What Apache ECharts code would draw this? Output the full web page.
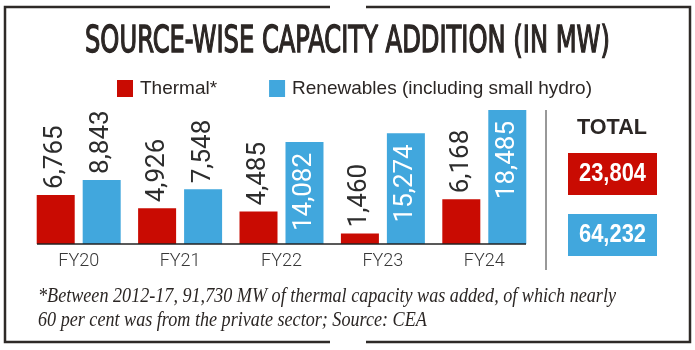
<!DOCTYPE html>
<html>
<head>
<meta charset="utf-8">
<script src="https://cdn.jsdelivr.net/npm/echarts@6/dist/echarts.min.js"></script>
<style>
  html, body { margin: 0; padding: 0; background: #fff; }
  #chart { width: 695px; height: 350px; }
</style>
</head>
<body>
<div id="chart"></div>
<script>
// data
var categories = ['FY20', 'FY21', 'FY22', 'FY23', 'FY24'];
var thermal = [6765, 4926, 4485, 1460, 6168];
var renewables = [8843, 7548, 14082, 15274, 18485];
var totals = [23804, 64232];
var seriesNames = ['Thermal*', 'Renewables (including small hydro)'];
var titleText = 'SOURCE-WISE CAPACITY ADDITION (IN MW)';
var noteLines = [
    '*Between 2012-17, 91,730 MW of thermal capacity was added, of which nearly',
    '60 per cent was from the private sector; Source: CEA'
];

var RED = '#c90b02';
var BLUE = '#41a7dd';
var INK = '#2b2624';
var SANS = '"Liberation Sans", Arial, sans-serif';
var COND = '"DejaVu Sans Condensed", "DejaVu Sans", sans-serif';

function fmt(v) {
    return String(v).replace(/\B(?=(\d{3})+(?!\d))/g, ',');
}

// squeeze a text to the width it has in the picture
var measureCtx = document.createElement('canvas').getContext('2d');
function fitScale(text, font, width) {
    measureCtx.font = font;
    return width / measureCtx.measureText(text).width;
}

var chart = echarts.init(document.getElementById('chart'), null, { renderer: 'canvas' });

var outsideLabel = {
    show: true,
    position: 'top',
    rotate: 90,
    align: 'left',
    verticalAlign: 'middle',
    distance: 6,
    color: '#2d2d2d',
    fontFamily: 'Roboto, "Liberation Sans", sans-serif',
    fontSize: 26,
    formatter: function (p) { return fmt(p.value); }
};
// tall blue bars carry their number inside, in white
var insideLabel = {
    position: 'insideTop',
    align: 'right',
    distance: 11,
    color: '#ffffff'
};

var renewData = renewables.map(function (v) {
    return v > 12000 ? { value: v, label: insideLabel } : v;
});

var titleFont = '38px ' + COND;
var boxFont = 'bold 25px ' + SANS;
var noteFont = 'italic 21px "Liberation Serif", "DejaVu Serif", serif';
var noteScale = fitScale(noteLines[0], noteFont, 578);

function txt(opt) {
    return {
        type: 'text',
        x: opt.x, y: opt.y,
        scaleX: opt.width ? fitScale(opt.text, opt.font, opt.width) : (opt.scaleX || 1),
        z: 20,
        style: {
            text: opt.text,
            font: opt.font,
            fill: opt.fill || INK,
            stroke: opt.stroke ? (opt.fill || INK) : null,
            lineWidth: opt.stroke || 0,
            align: opt.align || 'center',
            textAlign: opt.align || 'center',
            verticalAlign: 'middle',
            textVerticalAlign: 'middle'
        }
    };
}

var option = {
    animation: false,
    backgroundColor: '#ffffff',
    color: [RED, BLUE],
    legend: {
        left: 112,
        top: 74,
        icon: 'rect',
        itemWidth: 16,
        itemHeight: 17,
        itemGap: 52,
        textStyle: {
            color: INK,
            fontFamily: SANS,
            fontSize: 19,
            padding: [0, 0, 0, 2]
        },
        data: seriesNames
    },
    grid: {
        left: 28,
        right: 160,
        top: 99,
        height: 145
    },
    xAxis: {
        type: 'category',
        data: categories,
        axisLine: { show: false },
        axisTick: { show: false },
        axisLabel: {
            margin: 8,
            color: '#383838',
            fontFamily: 'Roboto, "Liberation Sans", sans-serif',
            fontWeight: 300,
            fontSize: 18
        }
    },
    yAxis: {
        type: 'value',
        min: 0,
        max: 20000,
        show: false
    },
    series: [
        {
            name: seriesNames[0],
            type: 'bar',
            barWidth: 38,
            barGap: '21%',
            label: outsideLabel,
            data: thermal
        },
        {
            name: seriesNames[1],
            type: 'bar',
            barWidth: 38,
            barGap: '21%',
            label: outsideLabel,
            data: renewData
        }
    ],
    graphic: [
        // frame, open in the middle of top and bottom edges
        {
            type: 'polyline', z: 20,
            shape: { points: [[330, 7], [5, 7], [5, 342], [330, 342]] },
            style: { stroke: '#2e2a27', lineWidth: 2.5, fill: null }
        },
        {
            type: 'polyline', z: 20,
            shape: { points: [[366, 7], [690, 7], [690, 342], [366, 342]] },
            style: { stroke: '#2e2a27', lineWidth: 2.5, fill: null }
        },
        txt({ text: titleText, font: titleFont, x: 347.5, y: 42, width: 525, stroke: 1.3 }),
        // base line under the bars
        {
            type: 'line', z: 20,
            shape: { x1: 37, y1: 244, x2: 526, y2: 244 },
            style: { stroke: '#222', lineWidth: 1.5 }
        },
        // separator before totals
        {
            type: 'line', z: 20,
            shape: { x1: 546, y1: 110, x2: 546, y2: 270 },
            style: { stroke: '#333', lineWidth: 1 }
        },
        txt({ text: 'TOTAL', font: 'bold 22px ' + SANS, x: 612, y: 128, width: 70 }),
        {
            type: 'rect', z: 15,
            shape: { x: 568, y: 153, width: 89, height: 42 },
            style: { fill: RED }
        },
        txt({ text: fmt(totals[0]), font: boxFont, x: 612.5, y: 174, fill: '#fff', width: 67 }),
        {
            type: 'rect', z: 15,
            shape: { x: 568, y: 214, width: 89, height: 42 },
            style: { fill: BLUE }
        },
        txt({ text: fmt(totals[1]), font: boxFont, x: 612.5, y: 235, fill: '#fff', width: 67 }),
        txt({ text: noteLines[0], font: noteFont, x: 38, y: 296, scaleX: noteScale, align: 'left' }),
        txt({ text: noteLines[1], font: noteFont, x: 38, y: 320, scaleX: noteScale, align: 'left' })
    ]
};

chart.setOption(option);
</script>
</body>
</html>
